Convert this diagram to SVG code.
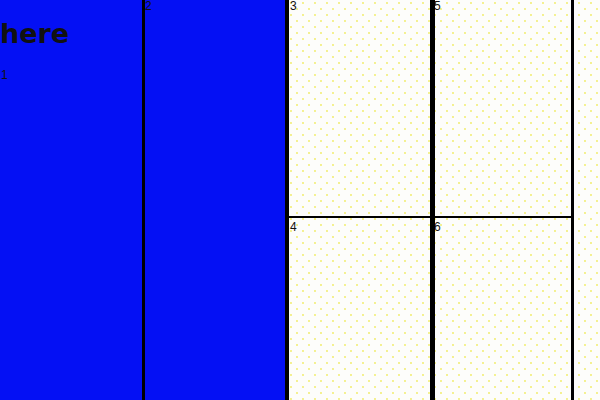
<svg xmlns="http://www.w3.org/2000/svg" width="600" height="400" viewBox="0 0 600 400">
<defs>
<pattern id="dots" width="12" height="12" patternUnits="userSpaceOnUse">
<rect width="12" height="12" fill="#fdfdfb"/>
<circle cx="3" cy="3" r="0.9" fill="#f0ec60"/>
<circle cx="9" cy="9" r="0.9" fill="#f0ec60"/>
</pattern>
<style>
.blue{fill:#0410f4}
.bar{fill:#000}
.num{font-family:"Liberation Sans",Arial,sans-serif;font-size:12px;fill:#111}
.big{font-family:"DejaVu Sans",sans-serif;font-size:27px;font-weight:bold;fill:#111}
</style>
</defs>
<rect width="600" height="400" fill="url(#dots)"/>
<g id="panel1">
<rect class="blue" x="0" y="0" width="143" height="400"/>
<text class="big" x="0" y="43">here</text>
<text class="num" x="1" y="79">1</text>
</g>
<g id="panel2">
<rect class="blue" x="143" y="0" width="143" height="400"/>
<text class="num" x="145" y="10">2</text>
</g>
<g id="panel3">
<text class="num" x="290" y="10">3</text>
</g>
<g id="panel4">
<text class="num" x="290" y="231">4</text>
</g>
<g id="panel5">
<text class="num" x="434" y="10">5</text>
</g>
<g id="panel6">
<text class="num" x="434" y="231">6</text>
</g>
<g id="connectors">
<rect class="bar" x="142" y="0" width="3" height="400"/>
<rect class="bar" x="285" y="0" width="4" height="400"/>
<rect class="bar" x="430" y="0" width="5" height="400"/>
<rect class="bar" x="571" y="0" width="3" height="400"/>
<rect class="bar" x="289" y="216" width="282" height="2"/>
</g>
</svg>
